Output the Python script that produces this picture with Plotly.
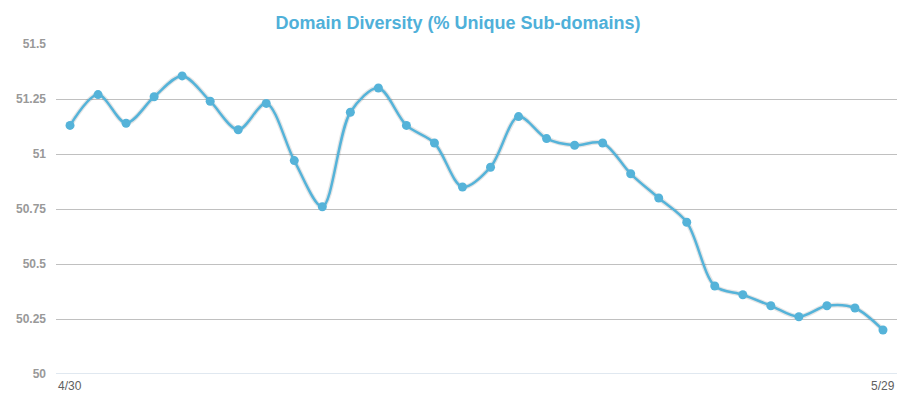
import plotly.graph_objects as go

days = list(range(30))
values = [51.13, 51.27, 51.14, 51.26, 51.355, 51.24, 51.11, 51.23, 50.97, 50.76,
          51.19, 51.30, 51.13, 51.05, 50.85, 50.94, 51.17, 51.07, 51.04, 51.05,
          50.91, 50.80, 50.69, 50.40, 50.36, 50.31, 50.26, 50.31, 50.30, 50.20]
y_ticks = [50, 50.25, 50.5, 50.75, 51, 51.25, 51.5]
y_tick_text = ["50", "50.25", "50.5", "50.75", "51", "51.25", "51.5"]
first_label = "4/30"
last_label = "5/29"
title = "Domain Diversity (% Unique Sub-domains)"

line_color = "#55b3d9"

# the page body adds an 8px offset; figure is sized to fill the rest of the window
W, H = 905, 406

fig = go.Figure()
fig.add_trace(go.Scatter(
    x=days, y=values, mode="lines",
    line=dict(color="rgba(0,0,0,0.10)", width=5, shape="spline", smoothing=0.9),
    hoverinfo="skip", showlegend=False))
fig.add_trace(go.Scatter(
    x=days, y=values, mode="lines+markers",
    line=dict(color=line_color, width=2.5, shape="spline", smoothing=0.9),
    marker=dict(color=line_color, size=9),
    showlegend=False))

fig.update_layout(
    width=W, height=H,
    margin=dict(l=48, r=16, t=36, b=40, autoexpand=False),
    paper_bgcolor="white", plot_bgcolor="white",
    title=dict(text="<b>" + title + "</b>", x=450 / W, xanchor="center",
               y=1 - 15 / H, yanchor="middle",
               font=dict(family="Liberation Sans, Arial", size=18, color="#4fb0d9")),
    xaxis=dict(range=[-0.5, 29.5], showgrid=False, zeroline=False, automargin=False,
               showticklabels=False, showline=False, fixedrange=True),
    yaxis=dict(range=[50, 51.5], tickvals=y_ticks, ticktext=y_tick_text, automargin=False,
               showgrid=True, gridcolor="#c0c0c0", gridwidth=1, zeroline=False,
               showline=False, ticks="", ticklabelstandoff=9,
               tickfont=dict(family="Liberation Sans, Arial", size=12, color="#999999", weight="bold")),
    shapes=[dict(type="line", xref="paper", yref="y", x0=0, x1=1, y0=50, y1=50,
                 line=dict(color="#c0d0e0", width=1))],
    annotations=[
        dict(text=first_label, xref="paper", yref="paper", x=0, y=0, yshift=-3,
             xanchor="left", yanchor="top", showarrow=False,
             font=dict(family="Liberation Sans, Arial", size=12, color="#606060")),
        dict(text=last_label, xref="paper", yref="paper", x=1, y=0, yshift=-3,
             xanchor="right", yanchor="top", showarrow=False,
             font=dict(family="Liberation Sans, Arial", size=12, color="#606060")),
    ],
)

fig.write_html("out.html")
